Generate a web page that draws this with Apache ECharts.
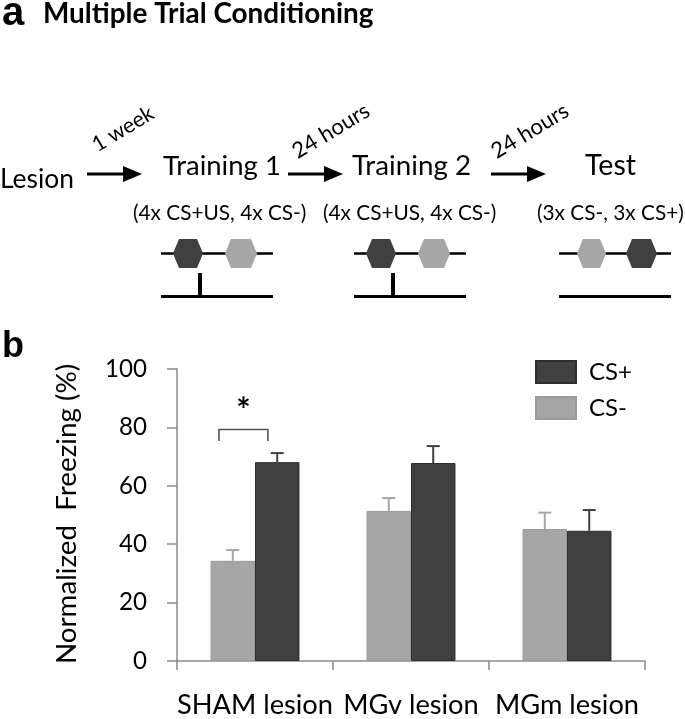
<!DOCTYPE html>
<html>
<head>
<meta charset="utf-8">
<script src="https://cdn.jsdelivr.net/npm/echarts@6/dist/echarts.min.js"></script>
<style>
html,body{margin:0;padding:0;background:#fff;}
#chart{width:685px;height:719px;}
</style>
</head>
<body>
<div id="chart"></div>
<script>
// ---------------- data ----------------
const categories = ['SHAM lesion', 'MGv lesion', 'MGm lesion'];
const csMinusMean = [34.3, 51.4, 45.2];
const csMinusErr  = [3.7, 4.4, 5.6];
const csPlusMean  = [68.1, 67.8, 44.6];
const csPlusErr   = [3.1, 5.8, 7.1];
const yAxisMin = 0, yAxisMax = 100, yAxisStep = 20;
const sigBrackets = [[0, 79.3, 75.3, 85.5]]; // [category, top, leg end, star level]
const legendNames = ['CS+', 'CS-'];
const yTitle = 'Normalized  Freezing (%)';
const panelATitle = 'Multiple Trial Conditioning';
const stages = ['Lesion', 'Training 1', 'Training 2', 'Test'];
const intervals = ['1 week', '24 hours', '24 hours'];
const protocols = ['(4x CS+US, 4x CS-)', '(4x CS+US, 4x CS-)', '(3x CS-, 3x CS+)'];

// ---------------- helpers ----------------
const FAM = 'Lato';
const FONT = 'Lato, "Open Sans", sans-serif';
const cv = document.createElement('canvas').getContext('2d');
function fit(text, target, weight) {
  cv.font = (weight || 'normal') + ' 100px ' + FAM;
  return 100 * target / cv.measureText(text).width;
}
const DARK = '#404040', LIGHT = '#a6a6a6', AXIS = '#8a8a8a';
const CAT_GAP = 0.43;

const chart = echarts.init(document.getElementById('chart'), null, {renderer: 'canvas'});

// ---------------- panel a graphics ----------------
const g = [];
g.push({type:'text', x:2, y:14, style:{text:'a', font:'bold 40px "Liberation Sans", Arial, sans-serif', fill:'#000', verticalAlign:'middle'}});
g.push({type:'text', x:43, y:14, style:{text:panelATitle, font:'bold ' + fit(panelATitle, 330, 'bold').toFixed(1) + 'px ' + FONT, fill:'#000', verticalAlign:'middle'}});
g.push({type:'text', x:2, y:347, style:{text:'b', font:'bold 36px "Liberation Sans", Arial, sans-serif', fill:'#000', verticalAlign:'middle'}});

const stagePos = [[0, 74, 179], [163, 118, 166], [352, 119, 166], [585, 51, 166]];
stages.forEach((s, i) => {
  const p = stagePos[i];
  g.push({type:'text', x:p[0], y:p[2], style:{text:s, font:fit(s, p[1]).toFixed(1) + 'px ' + FONT, fill:'#000', verticalAlign:'middle'}});
});
const arrowPos = [[87, 142], [288, 343], [491, 546]];
arrowPos.forEach(a => {
  const y = 174;
  g.push({type:'line', shape:{x1:a[0], y1:y, x2:a[1] - 16, y2:y}, style:{stroke:'#000', lineWidth:3}});
  g.push({type:'polygon', shape:{points:[[a[1] - 19, y - 8], [a[1], y], [a[1] - 19, y + 8]]}, style:{fill:'#000'}});
});
const intervalPos = [[123, 129, 68], [331, 131, 86], [530, 131, 86]];
intervals.forEach((t, i) => {
  const p = intervalPos[i];
  g.push({type:'text', x:p[0], y:p[1], rotation:31 * Math.PI / 180,
    style:{text:t, font:fit(t, p[2]).toFixed(1) + 'px ' + FONT, fill:'#000', align:'center', verticalAlign:'middle'}});
});
const protoPos = [[133, 173], [323, 173], [537, 147]];
protocols.forEach((t, i) => {
  const p = protoPos[i];
  g.push({type:'text', x:p[0], y:213, style:{text:t, font:fit(t, p[1]).toFixed(1) + 'px ' + FONT, fill:'#000', verticalAlign:'middle'}});
});
function hex(x0, x1, color) {
  const yt = 239, yb = 268, ym = 253.5, k = 6;
  return {type:'polygon', shape:{points:[[x0 + k, yt], [x1 - k, yt], [x1, ym], [x1 - k, yb], [x0 + k, yb], [x0, ym]]}, style:{fill:color}};
}
const timelines = [
  {x0:161, x1:273, hexes:[[173, 203, DARK], [225, 257, LIGHT]], us:200},
  {x0:354, x1:466, hexes:[[366, 396, DARK], [418, 450, LIGHT]], us:393},
  {x0:559, x1:671, hexes:[[577, 606, LIGHT], [626, 657, DARK]], us:null}
];
timelines.forEach(t => {
  g.push({type:'line', shape:{x1:t.x0, y1:253.5, x2:t.x1, y2:253.5}, style:{stroke:'#000', lineWidth:2.5}});
  t.hexes.forEach(h => g.push(hex(h[0], h[1], h[2])));
  g.push({type:'line', shape:{x1:t.x0, y1:296.5, x2:t.x1, y2:296.5}, style:{stroke:'#000', lineWidth:3}});
  if (t.us !== null) g.push({type:'line', shape:{x1:t.us, y1:273, x2:t.us, y2:296}, style:{stroke:'#000', lineWidth:4}});
});
// y axis title
g.push({type:'text', x:67, y:514, rotation:Math.PI / 2,
  style:{text:yTitle, font:fit(yTitle, 300).toFixed(1) + 'px ' + FONT, fill:'#000', align:'center', verticalAlign:'middle'}});

// ---------------- panel b ----------------
function errRender(sign, color) {
  return function (params, api) {
    const i = api.value(0), v = api.value(1), e = api.value(2);
    const band = api.size([1, 0])[0];
    const bw = band * (1 - CAT_GAP) / 2;
    const p0 = api.coord([i, v]);
    const p1 = api.coord([i, v + e]);
    const x = p0[0] + sign * bw / 2;
    const cap = 6.5;
    return {type:'group', children:[
      {type:'line', shape:{x1:x, y1:p0[1], x2:x, y2:p1[1]}, style:{stroke:color, lineWidth:2}},
      {type:'line', shape:{x1:x - cap, y1:p1[1], x2:x + cap, y2:p1[1]}, style:{stroke:color, lineWidth:2}}
    ]};
  };
}
function bracketRender(params, api) {
  const i = api.value(0), top = api.value(1), leg = api.value(2), star = api.value(3);
  const band = api.size([1, 0])[0];
  const bw = band * (1 - CAT_GAP) / 2;
  const c = api.coord([i, top]);
  const yl = api.coord([i, leg])[1];
  const ys = api.coord([i, star])[1];
  const xl = c[0] - 0.81 * bw, xr = c[0] + 0.29 * bw;
  return {type:'group', children:[
    {type:'polyline', shape:{points:[[xl, yl], [xl, c[1]], [xr, c[1]], [xr, yl]]}, style:{stroke:'#555', lineWidth:1.6, fill:null}},
    {type:'text', x:(xl + xr) / 2, y:ys, style:{text:'*', font:'bold 34px ' + FONT, fill:'#000', align:'center', verticalAlign:'middle'}}
  ]};
}

const tickFont = fit('100', 42);
const catFont = fit('SHAM lesion', 156);
const legFont = fit('CS+', 43);

chart.setOption({
  animation:false,
  textStyle:{fontFamily:FONT},
  graphic:{elements:g},
  grid:{left:177, top:369, right:40, bottom:58, containLabel:false},
  legend:{
    data:legendNames.map(n => ({name:n, icon:'rect'})),
    orient:'vertical', left:530, top:355, itemWidth:40, itemHeight:22, itemGap:12,
    textStyle:{fontSize:legFont, color:'#000', fontFamily:FONT, lineHeight:22, padding:[0, 0, 0, 8]},
    selectedMode:false
  },
  xAxis:{
    type:'category', data:categories,
    axisLine:{lineStyle:{color:AXIS, width:1.5}},
    axisTick:{show:true, length:9, alignWithLabel:false, lineStyle:{color:AXIS, width:1.5}},
    axisLabel:{interval:0, hideOverlap:false, fontSize:catFont, color:'#000', margin:31, fontFamily:FONT}
  },
  yAxis:{
    type:'value', min:yAxisMin, max:yAxisMax, interval:yAxisStep,
    axisLine:{show:true, lineStyle:{color:AXIS, width:1.5}},
    axisTick:{show:true, length:10, lineStyle:{color:AXIS, width:1.5}},
    splitLine:{show:false},
    axisLabel:{fontSize:tickFont, color:'#000', margin:30, fontFamily:FONT}
  },
  series:[
    {name:'CS-', type:'bar', data:csMinusMean, barGap:'0%', barCategoryGap:(CAT_GAP * 100) + '%',
      itemStyle:{color:LIGHT, borderColor:'#9a9a9a', borderWidth:1}},
    {name:'CS+', type:'bar', data:csPlusMean, barGap:'0%', barCategoryGap:(CAT_GAP * 100) + '%',
      itemStyle:{color:DARK, borderColor:'#2e2e2e', borderWidth:1}},
    {name:'errMinus', type:'custom', renderItem:errRender(-1, LIGHT), encode:{x:0, y:1},
      data:csMinusMean.map((v, i) => [i, v, csMinusErr[i]]), z:5},
    {name:'errPlus', type:'custom', renderItem:errRender(1, DARK), encode:{x:0, y:1},
      data:csPlusMean.map((v, i) => [i, v, csPlusErr[i]]), z:5},
    {name:'sig', type:'custom', renderItem:bracketRender, encode:{x:0, y:1},
      data:sigBrackets, z:5}
  ],
  color:[LIGHT, DARK]
});
</script>
</body>
</html>
